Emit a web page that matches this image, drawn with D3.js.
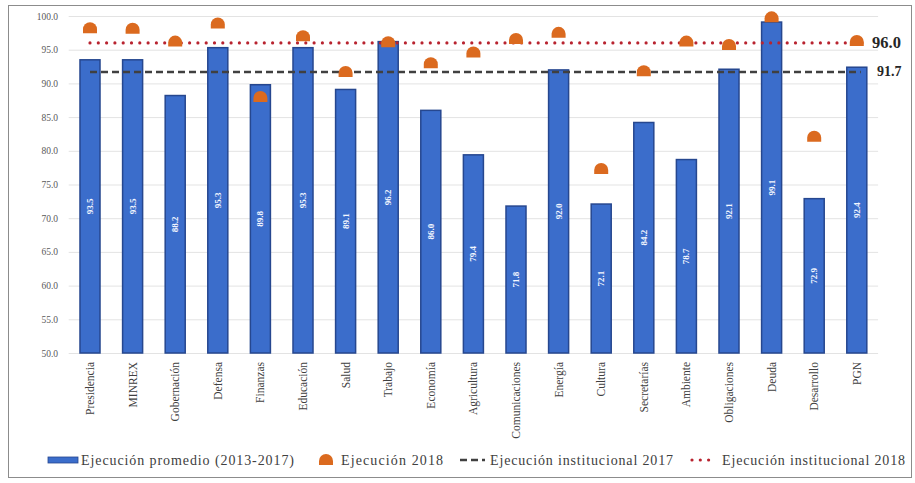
<!DOCTYPE html>
<html>
<head>
<meta charset="utf-8">
<script src="https://cdn.jsdelivr.net/npm/d3@7"></script>
<style>
  html, body { margin: 0; padding: 0; background: #fff; }
  svg { display: block; }
</style>
</head>
<body>
<svg id="chart" width="915" height="483"></svg>
<script>
// Institutions
const categories = ["Presidencia", "MINREX", "Gobernación", "Defensa", "Finanzas", "Educación",
  "Salud", "Trabajo", "Economía", "Agricultura", "Comunicaciones", "Energía", "Cultura",
  "Secretarías", "Ambiente", "Obligaciones", "Deuda", "Desarrollo", "PGN"];

// Average execution 2013-2017 (bars)
const promedio = [93.5, 93.5, 88.2, 95.3, 89.8, 95.3, 89.1, 96.2, 86.0, 79.4, 71.8, 92.0, 72.1,
  84.2, 78.7, 92.1, 99.1, 72.9, 92.4];

// Execution 2018 (markers)
const ejecucion2018 = [98.2, 98.1, 96.2, 98.9, 88.0, 97.0, 91.7, 96.1, 93.0, 94.6, 96.6, 97.5,
  77.3, 91.8, 96.2, 95.7, 99.8, 82.1, 96.3];

// Institutional reference levels
const institucional2017 = 91.7;
const institucional2018 = 96.0;

const yTicks = [50, 55, 60, 65, 70, 75, 80, 85, 90, 95, 100];

const legendLabels = ["Ejecución promedio (2013-2017)", "Ejecución 2018",
  "Ejecución institucional 2017", "Ejecución institucional 2018"];

const FONT = "'Liberation Serif', 'DejaVu Serif', serif";
const svg = d3.select("#chart").attr("font-family", FONT);

// Outer frame
svg.append("rect")
  .attr("x", 8.5).attr("y", 5.5).attr("width", 903).attr("height", 472)
  .attr("fill", "#fff").attr("stroke", "#8c8c8c").attr("stroke-width", 1);

const x = d3.scaleBand()
  .domain(categories)
  .range([68.7, 878.1])
  .paddingInner(0.53)
  .paddingOuter(0.265);

const y = d3.scaleLinear().domain([50, 100]).range([353, 16]);

// Gridlines
svg.append("g")
  .selectAll("line")
  .data(yTicks)
  .join("line")
  .attr("x1", 68.7).attr("x2", 878.1)
  .attr("y1", d => y(d) + 0.5).attr("y2", d => y(d) + 0.5)
  .attr("stroke", "#e3e3e3").attr("stroke-width", 1);

// Y axis labels
const yAxis = d3.axisLeft(y).tickValues(yTicks).tickFormat(d3.format(".1f")).tickSize(0).tickPadding(0);
const yg = svg.append("g").attr("transform", "translate(58,0)").call(yAxis)
  .attr("font-family", FONT);
yg.select(".domain").remove();
yg.selectAll("text")
  .attr("font-family", FONT)
  .attr("font-size", 9.5)
  .attr("fill", "#595959");

// Bars
const cx = c => x(c) + x.bandwidth() / 2;
svg.append("g")
  .selectAll("rect")
  .data(categories)
  .join("rect")
  .attr("x", c => x(c))
  .attr("y", (c, i) => y(promedio[i]))
  .attr("width", x.bandwidth())
  .attr("height", (c, i) => y(50) - y(promedio[i]))
  .attr("fill", "#3b6dcb")
  .attr("stroke", "#26478f")
  .attr("stroke-width", 1.5);

// Bar value labels, centred inside the bars
svg.append("g")
  .selectAll("text")
  .data(categories)
  .join("text")
  .attr("transform", (c, i) => `translate(${cx(c) + 3},${(y(promedio[i]) + y(50)) / 2}) rotate(-90)`)
  .attr("text-anchor", "middle")
  .attr("font-family", FONT)
  .attr("font-size", 9)
  .attr("font-weight", "bold")
  .attr("fill", "#f4f7ff")
  .text((c, i) => promedio[i].toFixed(1));

// Reference lines
const xStart = cx(categories[0]);
const xEnd = cx(categories[categories.length - 1]);

svg.append("line")
  .attr("x1", xStart).attr("x2", xEnd + 4)
  .attr("y1", y(institucional2017)).attr("y2", y(institucional2017))
  .attr("stroke", "#404040").attr("stroke-width", 2.6)
  .attr("stroke-dasharray", "7,4");

svg.append("line")
  .attr("x1", xStart).attr("x2", xEnd + 6)
  .attr("y1", y(institucional2018)).attr("y2", y(institucional2018))
  .attr("stroke", "#b8232f").attr("stroke-width", 3.2)
  .attr("stroke-linecap", "round")
  .attr("stroke-dasharray", "0,8.3");

// Execution 2018 markers (dome shape)
const dome = "M-7,5 L-7,1 A7,7 0 0 1 7,1 L7,5 Z";
svg.append("g")
  .selectAll("path")
  .data(categories)
  .join("path")
  .attr("d", dome)
  .attr("transform", (c, i) => `translate(${cx(c)},${y(ejecucion2018[i])})`)
  .attr("fill", "#db6a1f");

// Reference values
svg.append("text")
  .attr("x", 872).attr("y", y(institucional2018) + 5.5)
  .attr("font-family", FONT)
  .attr("font-size", 16.5).attr("font-weight", "bold").attr("fill", "#262626")
  .text(institucional2018.toFixed(1));
svg.append("text")
  .attr("x", 877).attr("y", y(institucional2017) + 4.5)
  .attr("font-family", FONT)
  .attr("font-size", 14).attr("font-weight", "bold").attr("fill", "#262626")
  .text(institucional2017.toFixed(1));

// Category labels
svg.append("g")
  .selectAll("text")
  .data(categories)
  .join("text")
  .attr("transform", c => `translate(${cx(c) + 4},362) rotate(-90)`)
  .attr("text-anchor", "end")
  .attr("font-family", FONT)
  .attr("font-size", 11.5)
  .attr("fill", "#404040")
  .text(c => c);

// Legend
const ly = 460;
const lg = svg.append("g").attr("font-family", FONT).attr("font-size", 14).attr("fill", "#404040");

const legendText = (xPos, w, label) => lg.append("text")
  .attr("x", xPos).attr("y", ly + 4.5)
  .attr("font-family", FONT)
  .attr("textLength", w).attr("lengthAdjust", "spacing")
  .text(label);

lg.append("rect").attr("x", 48).attr("y", ly - 3).attr("width", 30).attr("height", 6)
  .attr("fill", "#3b6dcb").attr("stroke", "#26478f").attr("stroke-width", 0.8);
legendText(81, 213, legendLabels[0]);

lg.append("path").attr("d", dome).attr("transform", `translate(326,${ly})`).attr("fill", "#db6a1f");
legendText(341, 102, legendLabels[1]);

lg.append("line").attr("x1", 460).attr("x2", 485).attr("y1", ly).attr("y2", ly)
  .attr("stroke", "#404040").attr("stroke-width", 2.6).attr("stroke-dasharray", "7,4");
legendText(490, 183, legendLabels[2]);

lg.append("line").attr("x1", 692).attr("x2", 716).attr("y1", ly).attr("y2", ly)
  .attr("stroke", "#b8232f").attr("stroke-width", 3.2).attr("stroke-linecap", "round")
  .attr("stroke-dasharray", "0,8.3");
legendText(722, 183, legendLabels[3]);
</script>
</body>
</html>
